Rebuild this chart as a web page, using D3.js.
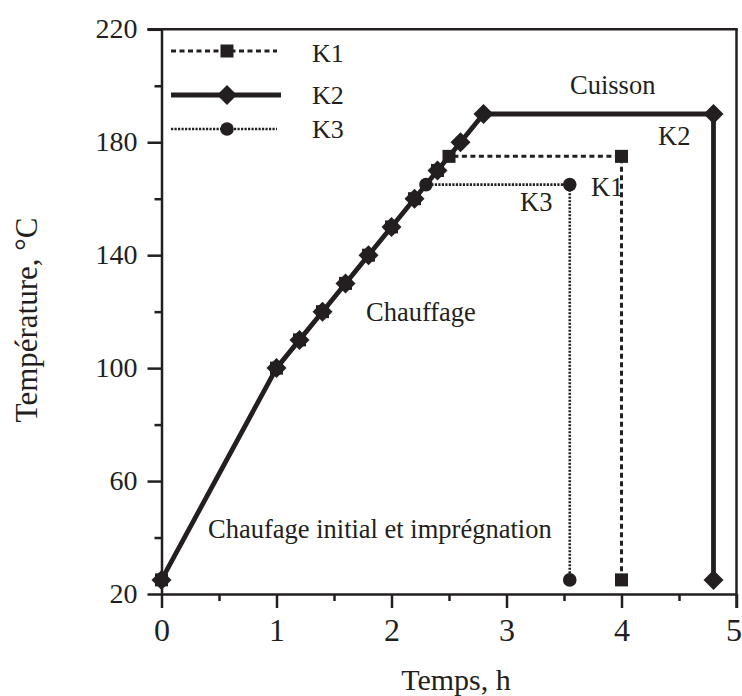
<!DOCTYPE html>
<html>
<head>
<meta charset="utf-8">
<script src="https://cdn.jsdelivr.net/npm/d3@7"></script>
<style>
  html, body { margin: 0; padding: 0; background: #fff; }
  svg { display: block; }
  text { font-family: "Liberation Serif", "Times New Roman", serif; fill: #231f20; }
</style>
</head>
<body>
<svg id="chart" width="742" height="696"></svg>
<script>
// ---- Data ----
const seriesNames = ["K1", "K2", "K3"];
const k1Time = [0, 1, 1.2, 1.4, 1.6, 1.8, 2.0, 2.2, 2.4, 2.5, 4.0, 4.0];
const k1Temp = [25, 100, 110, 120, 130, 140, 150, 160, 170, 175, 175, 25];
const k2Time = [0, 1, 1.2, 1.4, 1.6, 1.8, 2.0, 2.2, 2.4, 2.6, 2.8, 4.8, 4.8];
const k2Temp = [25, 100, 110, 120, 130, 140, 150, 160, 170, 180, 190, 190, 25];
const k3Time = [0, 1, 1.2, 1.4, 1.6, 1.8, 2.0, 2.2, 2.3, 3.55, 3.55];
const k3Temp = [25, 100, 110, 120, 130, 140, 150, 160, 165, 165, 25];
const xTicks = [0, 1, 2, 3, 4, 5];
const yTicks = [20, 60, 100, 140, 180, 220];
const xTitle = "Temps, h";
const yTitle = "Température, °C";
const annotations = ["Cuisson", "K2", "K1", "K3", "Chauffage", "Chaufage initial et imprégnation"];
const annotationPos = [[570, 94], [658, 145], [591, 196], [520, 211], [366, 321], [208, 538]];

// ---- Layout ----
const svg = d3.select("#chart");
const ink = "#231f20";
const x = d3.scaleLinear().domain([0, 5]).range([161.5, 736.5]);
const y = d3.scaleLinear().domain([20, 220]).range([594, 29.3]);

const zip = (a, b) => a.map((v, i) => [v, b[i]]);
const k1 = zip(k1Time, k1Temp), k2 = zip(k2Time, k2Temp), k3 = zip(k3Time, k3Temp);

// Minor ticks
const minorX = d3.range(0.5, 5, 1);
const minorY = d3.range(40, 220, 40);
const gMinX = svg.append("g").attr("transform", `translate(0,${y(20)})`)
  .call(d3.axisBottom(x).tickValues(minorX).tickSize(7).tickFormat(""));
const gMinY = svg.append("g").attr("transform", `translate(${x(0)},0)`)
  .call(d3.axisLeft(y).tickValues(minorY).tickSize(7).tickFormat(""));
[gMinX, gMinY].forEach(g => {
  g.select(".domain").remove();
  g.selectAll("line").attr("stroke", ink).attr("stroke-width", 2.5);
});

// Major axes
const gx = svg.append("g").attr("transform", `translate(0,${y(20)})`)
  .call(d3.axisBottom(x).tickValues(xTicks).tickSize(14).tickSizeOuter(0).tickFormat(d3.format("d")));
gx.selectAll("text").attr("y", 47).attr("dy", null)
  .style("font-size", "32px").style("font-family", "'Liberation Serif', serif").attr("fill", ink);
// keep the last label inside the picture (reference shows it at the right edge)
gx.selectAll(".tick").filter(d => d === 5).select("text")
  .attr("text-anchor", "end").attr("x", 5);
const gy = svg.append("g").attr("transform", `translate(${x(0)},0)`)
  .call(d3.axisLeft(y).tickValues(yTicks).tickSize(14).tickSizeOuter(0).tickFormat(d3.format("d")));
gy.selectAll("text").attr("x", -24).attr("dy", null).attr("y", 8)
  .style("font-size", "28px").style("font-family", "'Liberation Serif', serif").attr("fill", ink);
[gx, gy].forEach(g => {
  g.select(".domain").attr("stroke", ink).attr("stroke-width", 2.5);
  g.selectAll("line").attr("stroke", ink).attr("stroke-width", 2.5);
});

// Frame: top and right
svg.append("line").attr("x1", x(0) - 14).attr("x2", x(5) + 1.25)
  .attr("y1", y(220)).attr("y2", y(220)).attr("stroke", ink).attr("stroke-width", 2.5);
svg.append("line").attr("x1", x(5)).attr("x2", x(5))
  .attr("y1", y(220)).attr("y2", y(20) + 14).attr("stroke", ink).attr("stroke-width", 2.5);

// ---- Lines ----
const line = d3.line().x(d => x(d[0])).y(d => y(d[1]));
const styles = {
  K1: { dash: "5,3.5", width: 3 },
  K2: { dash: null, width: 4.8 },
  K3: { dash: "2.2,1.3", width: 2.6 }
};
svg.append("path").datum(k3).attr("d", line).attr("fill", "none").attr("stroke", ink)
  .attr("stroke-width", styles.K3.width).attr("stroke-dasharray", styles.K3.dash);
svg.append("path").datum(k1).attr("d", line).attr("fill", "none").attr("stroke", ink)
  .attr("stroke-width", styles.K1.width).attr("stroke-dasharray", styles.K1.dash);
svg.append("path").datum(k2).attr("d", line).attr("fill", "none").attr("stroke", ink)
  .attr("stroke-width", styles.K2.width).attr("stroke-linejoin", "round");

// ---- Markers ----
const sq = 13, dia = 10, rad = 6.8;
function square(g, cx, cy) {
  g.append("rect").attr("x", cx - sq / 2).attr("y", cy - sq / 2)
    .attr("width", sq).attr("height", sq).attr("fill", ink);
}
function diamond(g, cx, cy) {
  g.append("path").attr("d", `M${cx},${cy - dia}L${cx + dia},${cy}L${cx},${cy + dia}L${cx - dia},${cy}Z`)
    .attr("fill", ink);
}
function circle(g, cx, cy) {
  g.append("circle").attr("cx", cx).attr("cy", cy).attr("r", rad).attr("fill", ink);
}
const gm = svg.append("g");
k1.forEach(d => square(gm, x(d[0]), y(d[1])));
k3.forEach(d => circle(gm, x(d[0]), y(d[1])));
k2.forEach(d => diamond(gm, x(d[0]), y(d[1])));

// ---- Legend ----
const legendY = [51, 95, 129];
const legendTextY = [61.5, 104, 138];
const leg = svg.append("g");
seriesNames.forEach((name, i) => {
  const st = styles[name];
  leg.append("line").attr("x1", 171).attr("x2", name === "K2" ? 281 : 277)
    .attr("y1", legendY[i]).attr("y2", legendY[i])
    .attr("stroke", ink).attr("stroke-width", st.width)
    .attr("stroke-dasharray", st.dash);
  if (name === "K1") square(leg, 227, legendY[i]);
  if (name === "K2") diamond(leg, 227, legendY[i]);
  if (name === "K3") circle(leg, 227, legendY[i]);
  leg.append("text").attr("x", 312).attr("y", legendTextY[i])
    .style("font-size", "26px").text(name);
});

// ---- Annotations ----
annotations.forEach((t, i) => {
  svg.append("text").attr("x", annotationPos[i][0]).attr("y", annotationPos[i][1])
    .style("font-size", "26.5px").text(t);
});

// ---- Axis titles ----
svg.append("text").attr("x", 456).attr("y", 690).attr("text-anchor", "middle")
  .style("font-size", "30px").text(xTitle);
svg.append("text").attr("transform", "translate(37,320) rotate(-90)").attr("text-anchor", "middle")
  .style("font-size", "31px").text(yTitle);
</script>
</body>
</html>
